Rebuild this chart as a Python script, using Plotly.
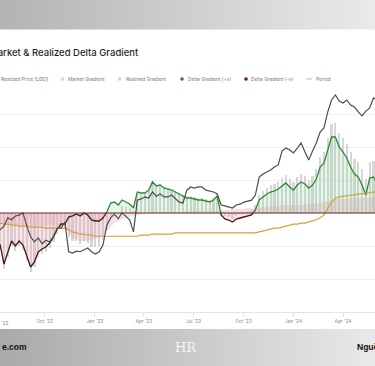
import plotly.graph_objects as go
import pandas as pd
import numpy as np

# ---------------- data (weekly) ----------------
weeks = pd.date_range("2022-07-04", periods=101, freq="7D")

price_usd = [
    20800, 20800, 21500, 23200, 22800, 23600, 23800, 24300, 21500, 19500,
    18600, 19300, 18300, 18900, 18600, 19600, 21100, 21100, 22300, 17000,
    16800, 17100, 17000, 17300, 17600, 17000, 16650, 17000, 18100, 21700,
    23200, 24000, 23000, 24300, 23600, 22800, 20400, 27300, 27600, 28100,
    27800, 29400, 28300, 28900, 28100, 28100, 28600, 27800, 26800, 26600,
    29900, 30800, 30500, 30800, 30800, 29900, 29700, 29400, 28900, 26100,
    25900, 25600, 25400, 26100, 26300, 26800, 27100, 27300, 28600, 33700,
    34700, 35300, 36000, 37000, 37700, 42800, 44000, 43200, 42100, 44000,
    46100, 42500, 39400, 42800, 46100, 51000, 52900, 61300, 68400, 71600,
    67800, 66500, 68400, 65300, 64100, 61300, 59100, 61800, 63600, 69700,
    68400,
]

realized_price_usd = [
    22100, 22100, 21900, 21900, 21700, 21700, 21500, 21500, 21500, 21300,
    21300, 21300, 21300, 21100, 21100, 21100, 21100, 21100, 21100, 20800,
    20400, 20200, 20000, 20000, 19800, 19800, 19600, 19600, 19600, 19600,
    19600, 19600, 19600, 19600, 19600, 19600, 19600, 19600, 19800, 19800,
    19800, 20000, 20000, 20000, 20000, 20000, 20000, 20200, 20200, 20200,
    20200, 20200, 20200, 20200, 20200, 20200, 20200, 20200, 20200, 20200,
    20200, 20200, 20200, 20200, 20200, 20200, 20200, 20200, 20200, 20400,
    20600, 20800, 20900, 21100, 21100, 21300, 21500, 21700, 21900, 21900,
    22100, 22100, 22300, 22500, 22800, 23200, 23800, 25400, 26800, 27800,
    28100, 28300, 28300, 28600, 28600, 28900, 28900, 29100, 29100, 29400,
    29400,
]

delta_gradient = [
    -0.27, -0.32, -0.51, -0.39, -0.28, -0.33, -0.28, -0.32, -0.43, -0.54,
    -0.49, -0.39, -0.36, -0.34, -0.30, -0.24, -0.16, -0.11, -0.11, -0.04,
    -0.03, -0.01, -0.03, 0.00, -0.02, -0.07, -0.08, -0.08, -0.05, 0.01,
    0.10, 0.11, 0.08, 0.13, 0.11, 0.09, 0.05, 0.21, 0.20, 0.20,
    0.23, 0.31, 0.27, 0.28, 0.25, 0.24, 0.23, 0.21, 0.19, 0.17,
    0.15, 0.15, 0.14, 0.13, 0.13, 0.12, 0.11, 0.13, 0.17, -0.02,
    -0.06, -0.07, -0.09, -0.06, -0.05, -0.04, -0.03, -0.02, 0.03, 0.13,
    0.16, 0.19, 0.21, 0.22, 0.24, 0.27, 0.30, 0.26, 0.23, 0.28,
    0.31, 0.29, 0.25, 0.28, 0.34, 0.46, 0.50, 0.63, 0.76, 0.76,
    0.66, 0.61, 0.55, 0.46, 0.39, 0.36, 0.28, 0.18, 0.35, 0.36,
    0.30,
]

market_gradient = [
    -0.32, -0.37, -0.56, -0.44, -0.33, -0.38, -0.33, -0.37, -0.48, -0.59,
    -0.54, -0.44, -0.41, -0.39, -0.35, -0.29, -0.21, -0.16, -0.16, -0.24,
    -0.28, -0.28, -0.31, -0.28, -0.30, -0.34, -0.34, -0.33, -0.27, -0.17,
    -0.04, 0.01, 0.00, 0.07, 0.06, 0.05, 0.02, 0.19, 0.19, 0.20,
    0.23, 0.32, 0.28, 0.29, 0.26, 0.25, 0.24, 0.22, 0.20, 0.18,
    0.17, 0.17, 0.16, 0.15, 0.15, 0.14, 0.13, 0.15, 0.19, 0.01,
    -0.03, -0.04, -0.06, -0.03, -0.01, 0.01, 0.02, 0.03, 0.08, 0.18,
    0.22, 0.25, 0.28, 0.29, 0.31, 0.35, 0.38, 0.34, 0.31, 0.36,
    0.39, 0.37, 0.33, 0.37, 0.44, 0.56, 0.61, 0.75, 0.89, 0.90,
    0.80, 0.75, 0.69, 0.61, 0.54, 0.51, 0.44, 0.34, 0.51, 0.52,
    0.46,
]

realised_gradient = [
    -0.10, -0.10, -0.11, -0.11, -0.12, -0.12, -0.12, -0.12, -0.13, -0.13,
    -0.13, -0.13, -0.13, -0.13, -0.12, -0.12, -0.12, -0.12, -0.12, -0.20,
    -0.25, -0.27, -0.28, -0.28, -0.28, -0.27, -0.26, -0.25, -0.22, -0.18,
    -0.14, -0.10, -0.08, -0.06, -0.05, -0.04, -0.03, -0.02, -0.01, 0.00,
    0.00, 0.01, 0.01, 0.01, 0.01, 0.01, 0.01, 0.01, 0.01, 0.01,
    0.02, 0.02, 0.02, 0.02, 0.02, 0.02, 0.02, 0.02, 0.02, 0.03,
    0.03, 0.03, 0.04, 0.04, 0.04, 0.04, 0.05, 0.05, 0.05, 0.05,
    0.06, 0.06, 0.07, 0.07, 0.07, 0.08, 0.08, 0.08, 0.08, 0.08,
    0.08, 0.08, 0.09, 0.09, 0.10, 0.10, 0.11, 0.12, 0.13, 0.14,
    0.14, 0.14, 0.14, 0.15, 0.15, 0.15, 0.15, 0.16, 0.16, 0.16,
    0.16,
]

tick_dates = ["2022-07-01", "2022-10-01", "2023-01-01", "2023-04-01",
              "2023-07-01", "2023-10-01", "2024-01-01", "2024-04-01"]
tick_labels = ["Jul '22", "Oct '22", "Jan '23", "Apr '23",
               "Jul '23", "Oct '23", "Jan '24", "Apr '24"]

title_text = "Market & Realized Delta Gradient"
legend_labels = ["Realized Price [USD]", "Market Gradient", "Realised Gradient",
                 "Delta Gradient (+v)", "Delta Gradient (-v)", "Period"]

# ---------------- helpers ----------------
W, H = 375, 366
def px(x):
    return x / W
def py(y):
    return (H - y) / H

# split delta series at zero crossings (for sign colouring)
t = weeks.astype("int64").to_numpy() / 1e6  # ms
v = np.array(delta_gradient, dtype=float)
dense_t, dense_v = [t[0]], [v[0]]
for i in range(1, len(v)):
    a, b = v[i - 1], v[i]
    if a * b < 0:
        tc = t[i - 1] + (t[i] - t[i - 1]) * (a / (a - b))
        dense_t.append(tc); dense_v.append(0.0)
    dense_t.append(t[i]); dense_v.append(b)
dense_t = np.array(dense_t); dense_v = np.array(dense_v)
dense_x = pd.to_datetime(dense_t, unit="ms")

pos_y = [val if val >= 0 else None for val in dense_v]
neg_y = [val if val <= 0 else None for val in dense_v]
pos_fill = np.maximum(dense_v, 0)
neg_fill = np.minimum(dense_v, 0)

fig = go.Figure()

# realised gradient (pink area)
fig.add_trace(go.Scatter(x=weeks, y=realised_gradient, mode="lines",
                         line=dict(width=0), fill="tozeroy",
                         fillcolor="rgba(226,160,178,0.35)", yaxis="y"))
# market gradient (gray bars)
fig.add_trace(go.Bar(x=weeks, y=market_gradient, width=4 * 86400000,
                     marker=dict(color="rgba(175,175,175,0.5)", line=dict(width=0)),
                     yaxis="y"))
# delta fills
fig.add_trace(go.Scatter(x=dense_x, y=pos_fill, mode="lines", line=dict(width=0),
                         fill="tozeroy", fillcolor="rgba(140,215,160,0.22)", yaxis="y"))
fig.add_trace(go.Scatter(x=dense_x, y=neg_fill, mode="lines", line=dict(width=0),
                         fill="tozeroy", fillcolor="rgba(240,170,185,0.30)", yaxis="y"))
# delta lines
fig.add_trace(go.Scatter(x=dense_x, y=pos_y, mode="lines",
                         line=dict(color="#2f8a34", width=1.3), connectgaps=False, yaxis="y"))
fig.add_trace(go.Scatter(x=dense_x, y=neg_y, mode="lines",
                         line=dict(color="#3e1a10", width=1.3), connectgaps=False, yaxis="y"))
# realized price + price (log axis)
fig.add_trace(go.Scatter(x=weeks, y=realized_price_usd, mode="lines",
                         line=dict(color="#cfa43a", width=1.2), yaxis="y2"))
fig.add_trace(go.Scatter(x=weeks, y=price_usd, mode="lines",
                         line=dict(color="#4d4d4d", width=1.2), yaxis="y2"))

shapes = []
# gray gradient bands (top / bottom)
N = 75
for k in range(N):
    f = k / (N - 1)
    c1 = int(180 + (234 - 180) * f)
    c2 = int(170 + (233 - 170) * f)
    shapes.append(dict(type="rect", xref="paper", yref="paper",
                       x0=k / N, x1=(k + 1) / N + 0.002, y0=py(29.5), y1=1,
                       fillcolor=f"rgb({c1},{c1},{c1})", line=dict(width=0), layer="below"))
    shapes.append(dict(type="rect", xref="paper", yref="paper",
                       x0=k / N, x1=(k + 1) / N + 0.002, y0=0, y1=py(329),
                       fillcolor=f"rgb({c2},{c2},{c2})", line=dict(width=0), layer="below"))
# zero baseline of the gradient axis
shapes.append(dict(type="line", xref="paper", yref="y", x0=0, x1=1, y0=0, y1=0,
                   line=dict(color="#6a2a1e", width=1.2), layer="above"))

# legend markers
leg_y = 79
def dot(cx, color):
    r = 1.8
    return dict(type="circle", xref="paper", yref="paper",
                x0=px(cx - r), x1=px(cx + r), y0=py(leg_y + r), y1=py(leg_y - r),
                fillcolor=color, line=dict(width=0))
def sq(cx, color):
    r = 1.6
    return dict(type="rect", xref="paper", yref="paper",
                x0=px(cx - r), x1=px(cx + r), y0=py(leg_y + r), y1=py(leg_y - r),
                fillcolor=color, line=dict(width=0))
shapes += [sq(62.5, "#d6d6d6"), sq(119.5, "#d6d6d6"),
           dot(182, "#1f8a2a"), dot(246, "#8a0f12"),
           dict(type="line", xref="paper", yref="paper", x0=px(306), x1=px(312),
                y0=py(leg_y), y1=py(leg_y), line=dict(color="#aaaaaa", width=0.8))]

annotations = [
    dict(text=title_text, x=px(-13), y=py(52), xref="paper", yref="paper",
         xanchor="left", yanchor="middle", showarrow=False,
         font=dict(family="Inter", size=9.5, color="#1f1f1f", weight=500)),
    # first quarter label, partly outside the visible area
    dict(text=tick_labels[0], x=px(0.5), y=py(322.5), xref="paper", yref="paper",
         xanchor="center", yanchor="middle", showarrow=False,
         font=dict(family="Inter", size=4.8, color="#8a8a8a")),
]
leg_x = [-1, 66, 123.5, 185.5, 249, 314]
for lx, lab in zip(leg_x, legend_labels):
    annotations.append(dict(text=lab, x=px(lx), y=py(leg_y), xref="paper", yref="paper",
                            xanchor="left", yanchor="middle", showarrow=False,
                            font=dict(family="Inter", size=4.8, color="#777777")))
annotations += [
    dict(text="<b>e.com</b>", x=px(0), y=py(347), xref="paper", yref="paper",
         xanchor="left", yanchor="middle", showarrow=False,
         font=dict(family="Liberation Sans", size=8.5, color="#111111")),
    dict(text="<b>Nguồn: Glassnode</b>", x=px(355), y=py(347), xref="paper", yref="paper",
         xanchor="left", yanchor="middle", showarrow=False,
         font=dict(family="Liberation Sans", size=8.5, color="#111111")),
    dict(text="HR", x=px(186), y=py(347), xref="paper", yref="paper",
         xanchor="center", yanchor="middle", showarrow=False,
         font=dict(family="DejaVu Serif", size=13, color="rgba(255,255,255,0.85)")),
]

fig.update_layout(
    width=W, height=H, margin=dict(l=0, r=0, t=0, b=0),
    paper_bgcolor="white", plot_bgcolor="white", showlegend=False,
    shapes=shapes, annotations=annotations, bargap=0,
    xaxis=dict(type="date", range=["2022-07-10 18:00", "2024-05-29 19:00"],
               tickvals=tick_dates, ticktext=tick_labels,
               tickfont=dict(family="Inter", size=4.8, color="#8a8a8a"),
               ticks="outside", ticklen=4, tickcolor="#e2e2e2", tickwidth=0.8,
               showline=True, linecolor="#e4e4e4", linewidth=1,
               showgrid=False, zeroline=False, anchor="y"),
    yaxis=dict(domain=[py(312), py(81)], range=[-0.99, 1.32], tick0=0, dtick=0.33,
               showgrid=True, gridcolor="#efefef", gridwidth=0.8,
               showticklabels=False, zeroline=False, ticks=""),
    yaxis2=dict(overlaying="y", type="log", range=[3.9904, 4.9107],
                visible=False, showgrid=False),
)

fig.write_html("out.html", config={"displayModeBar": False},
               post_script="document.body.style.margin='0';document.body.style.overflow='hidden';")
